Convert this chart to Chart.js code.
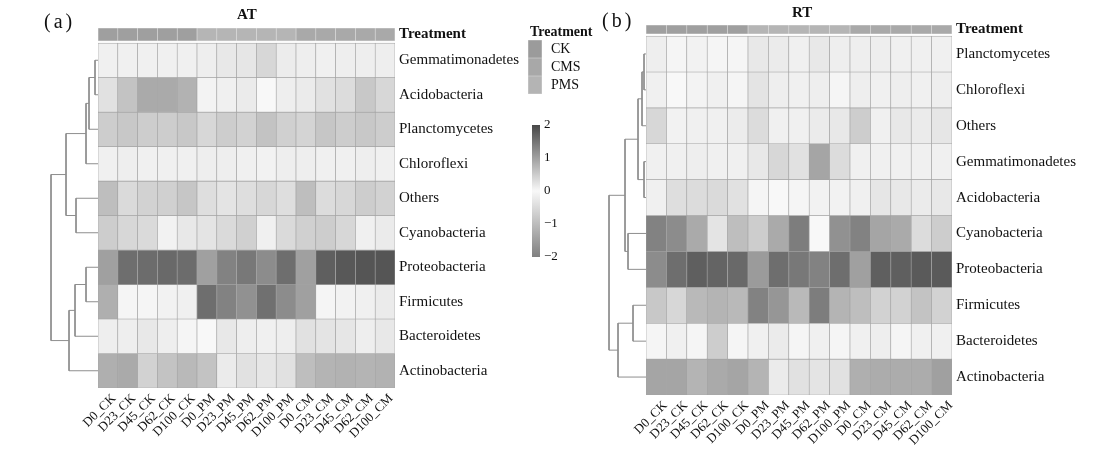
<!DOCTYPE html>
<html><head><meta charset="utf-8">
<script src="https://cdn.jsdelivr.net/npm/chart.js@4.4.1/dist/chart.umd.min.js"></script>
<style>
html,body{margin:0;padding:0;background:#fff;}
#wrap{position:relative;width:1098px;height:460px;overflow:hidden;font-family:'Liberation Serif',serif;color:#111;}
canvas{position:absolute;left:0;top:0;}
.t{position:absolute;white-space:nowrap;line-height:1;}
</style></head><body><div id="wrap">
<canvas id="hA" width="1098" height="460"></canvas>
<canvas id="dA" width="1098" height="460"></canvas>
<canvas id="hB" width="1098" height="460"></canvas>
<canvas id="dB" width="1098" height="460"></canvas>
<canvas id="legT" width="1098" height="460"></canvas>
<canvas id="legC" width="1098" height="460"></canvas>
<div class="t" style="left:44px;top:11px;font-size:20px;letter-spacing:3px">(a)</div>
<div class="t" style="left:237px;top:7px;font-size:15px;font-weight:bold">AT</div>
<div class="t" style="left:602px;top:10px;font-size:20px;letter-spacing:3px">(b)</div>
<div class="t" style="left:792px;top:5px;font-size:15px;font-weight:bold">RT</div>
<div class="t" style="left:530px;top:25px;font-size:14px;font-weight:bold">Treatment</div>
</div>
<script>
// ---------------- data ----------------
const columns = ['D0_CK','D23_CK','D45_CK','D62_CK','D100_CK','D0_PM','D23_PM','D45_PM','D62_PM','D100_PM','D0_CM','D23_CM','D45_CM','D62_CM','D100_CM'];
const treatmentOfColumn = ['CK','CK','CK','CK','CK','PMS','PMS','PMS','PMS','PMS','CMS','CMS','CMS','CMS','CMS'];
const treatmentLevels = ['CK','CMS','PMS'];
const colorTicks = [-2,-1,0,1,2];

const rowsAT = ['Gemmatimonadetes','Acidobacteria','Planctomycetes','Chloroflexi','Others','Cyanobacteria','Proteobacteria','Firmicutes','Bacteroidetes','Actinobacteria'];
const valuesAT = [
  [0.09,0.09,0.09,0.09,0.09,0.11,0.18,0.20,0.38,0.14,0.11,0.09,0.11,0.11,0.11],
  [0.26,0.60,0.89,0.89,0.80,0.06,0.09,0.15,0.00,0.11,0.15,0.26,0.32,0.55,0.38],
  [0.49,0.55,0.49,0.49,0.55,0.38,0.49,0.43,0.60,0.45,0.41,0.57,0.49,0.55,0.49],
  [0.09,0.11,0.09,0.09,0.09,0.11,0.11,0.09,0.07,0.11,0.11,0.09,0.09,0.11,0.09],
  [0.66,0.34,0.43,0.45,0.57,0.30,0.23,0.30,0.38,0.30,0.66,0.32,0.38,0.49,0.43],
  [0.49,0.38,0.34,0.07,0.18,0.23,0.34,0.45,0.09,0.34,0.45,0.49,0.38,0.09,0.15],
  [1.00,1.57,1.59,1.63,1.59,1.00,1.34,1.45,1.23,1.57,1.00,1.74,1.82,1.85,1.85],
  [0.83,0.03,0.03,0.07,0.09,1.57,1.34,1.17,1.55,1.23,1.00,0.03,0.07,0.09,0.15],
  [0.11,0.11,0.18,0.11,0.03,0.00,0.18,0.11,0.09,0.11,0.26,0.23,0.20,0.11,0.18],
  [0.83,0.89,0.43,0.60,0.72,0.60,0.15,0.26,0.20,0.26,0.66,0.77,0.80,0.77,0.80]
];
// dendrogram merges: [child A, child B, height]; children < 10 are rows, >= 10 are earlier merges
const mergesAT = [[0,1,3],[10,2,9],[11,3,12],[4,5,22],[12,13,32],[6,7,12],[15,8,23],[16,9,29],[14,17,47]];

const rowsRT = ['Planctomycetes','Chloroflexi','Others','Gemmatimonadetes','Acidobacteria','Cyanobacteria','Proteobacteria','Firmicutes','Bacteroidetes','Actinobacteria'];
const valuesRT = [
  [0.11,0.03,0.07,0.03,0.03,0.18,0.15,0.09,0.18,0.11,0.11,0.11,0.09,0.09,0.09],
  [0.09,0.00,0.06,0.09,0.03,0.23,0.11,0.09,0.11,0.03,0.11,0.09,0.11,0.09,0.11],
  [0.38,0.07,0.09,0.09,0.14,0.32,0.09,0.09,0.15,0.18,0.49,0.09,0.18,0.15,0.20],
  [0.09,0.09,0.11,0.09,0.09,0.18,0.38,0.26,0.94,0.32,0.09,0.09,0.09,0.09,0.09],
  [0.09,0.30,0.32,0.34,0.26,0.03,0.00,0.03,0.07,0.07,0.09,0.20,0.18,0.15,0.18],
  [1.34,1.23,0.89,0.23,0.66,0.49,0.89,1.40,0.00,1.17,1.34,0.94,0.89,0.32,0.49],
  [1.23,1.57,1.74,1.68,1.63,1.06,1.57,1.45,1.34,1.57,1.00,1.74,1.74,1.80,1.80],
  [0.55,0.38,0.72,0.77,0.72,1.34,1.11,0.72,1.40,0.77,0.66,0.43,0.43,0.60,0.43],
  [0.03,0.09,0.03,0.49,0.03,0.09,0.15,0.03,0.09,0.03,0.09,0.11,0.03,0.09,0.09],
  [0.94,0.94,0.77,0.89,0.94,0.77,0.15,0.26,0.23,0.26,0.83,0.86,0.86,0.86,1.00]
];
const mergesRT = [[0,1,2],[10,2,4],[3,4,2],[11,12,8],[5,6,18],[13,14,21],[7,8,13],[16,9,28],[15,17,37]];

// ---------------- styles ----------------
const FONT = 'Liberation Serif';
const W = 1098, H = 460;
const treatColors = {CK:'#9f9f9f', CMS:'#a9a9a9', PMS:'#b5b5b5'};
const legendColors = {CK:'#9b9b9b', CMS:'#a8a8a8', PMS:'#b4b4b4'};

function colorFor(v){
  const c = Math.max(-2, Math.min(2, v));
  const g = c >= 0 ? 248 - 88*c : 248 - 60*(-c);
  const q = Math.round(g);
  return `rgb(${q},${q},${q})`;
}

function heatmap(id, rows, values, area, treatSpan, xOffset){
  const nR = rows.length;
  const datasets = rows.map((r,i)=>({
    label:r,
    data: values[i].map(()=>[nR-1-i, nR-i]),
    backgroundColor: values[i].map(colorFor),
    borderColor:'#a3a3a3', borderWidth:0.65, borderSkipped:false,
    barPercentage:1, categoryPercentage:1, grouped:false
  }));
  datasets.push({
    label:'Treatment',
    data: columns.map(()=>treatSpan),
    backgroundColor: treatmentOfColumn.map(t=>treatColors[t]),
    borderColor:'rgba(0,0,0,0.07)', borderWidth:0.6, borderSkipped:false,
    barPercentage:1, categoryPercentage:1, grouped:false
  });
  const tickVals = rows.map((r,i)=>nR-0.5-i).concat([(treatSpan[0]+treatSpan[1])/2]);
  const tickLabels = rows.concat(['Treatment']);
  return new Chart(document.getElementById(id), {
    type:'bar',
    data:{labels: columns, datasets},
    options:{
      responsive:false, animation:false, events:[],
      layout:{padding:{left:area.left, top:area.top, right:W-area.right-170, bottom:H-area.bottom-64}},
      plugins:{legend:{display:false}, tooltip:{enabled:false}, title:{display:false}},
      scales:{
        x:{type:'category', offset:true, grid:{display:false, drawTicks:false}, border:{display:false},
           ticks:{minRotation:45, maxRotation:45, autoSkip:false, padding:3, labelOffset:xOffset, color:'#111', font:{family:FONT, size:13}},
           afterFit(s){ s.height = 64; }},
        y:{type:'linear', position:'right', min:0, max:treatSpan[1],
           grid:{display:false, drawTicks:false}, border:{display:false},
           afterBuildTicks(s){ s.ticks = tickVals.map(v=>({value:v})); },
           ticks:{autoSkip:false, padding:4, color:'#111',
             callback:(v,i)=>tickLabels[i],
             font:(c)=>({family:FONT, size:15, weight: c.index===nR ? 'bold' : 'normal'})},
           afterFit(s){ s.width = 170; }}
      }
    }
  });
}

function dendroPoints(merges, nLeaves){
  const pos=[], hgt=[], pts=[];
  for(let i=0;i<nLeaves;i++){ pos[i]=nLeaves-0.5-i; hgt[i]=0; }
  merges.forEach(([a,b,h],k)=>{
    const id=nLeaves+k;
    pos[id]=(pos[a]+pos[b])/2; hgt[id]=h;
    pts.push({x:hgt[a],y:pos[a]},{x:h,y:pos[a]},{x:h,y:pos[b]},{x:hgt[b],y:pos[b]},{x:null,y:null});
  });
  return {pts, maxH: hgt[hgt.length-1]};
}

function dendro(id, merges, nLeaves, area){
  const d = dendroPoints(merges, nLeaves);
  return new Chart(document.getElementById(id), {
    type:'scatter',
    data:{datasets:[{data:d.pts, showLine:true, borderColor:'#8e8e8e', borderWidth:1, pointRadius:0, spanGaps:false, tension:0, clip:false}]},
    options:{
      responsive:false, animation:false, events:[],
      layout:{padding:{left:area.left, top:area.top, right:W-area.right, bottom:H-area.bottom}},
      plugins:{legend:{display:false}, tooltip:{enabled:false}},
      scales:{
        x:{type:'linear', display:false, reverse:true, min:0, max:d.maxH},
        y:{type:'linear', display:false, min:0, max:nLeaves}
      }
    }
  });
}

heatmap('hA', rowsAT, valuesAT, {left:98, right:395, top:28, bottom:388}, [10.06, 10.44], 6);
dendro('dA', mergesAT, rowsAT.length, {left:51, right:98, top:43, bottom:388});
heatmap('hB', rowsRT, valuesRT, {left:646, right:952, top:25, bottom:395}, [10.06, 10.31], 9);
dendro('dB', mergesRT, rowsRT.length, {left:609, right:646, top:36, bottom:395});

// Treatment legend
new Chart(document.getElementById('legT'), {
  type:'bar',
  data:{labels:[''], datasets: treatmentLevels.map((t,i)=>({
    label:t, data:[[treatmentLevels.length-1-i, treatmentLevels.length-i]],
    backgroundColor:legendColors[t], borderColor:'rgba(0,0,0,0.12)', borderWidth:0.6, borderSkipped:false,
    barPercentage:1, categoryPercentage:1, grouped:false}))},
  options:{
    responsive:false, animation:false, events:[],
    layout:{padding:{left:528, top:40, right:W-542-60, bottom:H-94}},
    plugins:{legend:{display:false}, tooltip:{enabled:false}},
    scales:{
      x:{display:false},
      y:{type:'linear', position:'right', min:0, max:treatmentLevels.length,
         grid:{display:false, drawTicks:false}, border:{display:false},
         afterBuildTicks(s){ s.ticks = treatmentLevels.map((t,i)=>({value:treatmentLevels.length-0.5-i})); },
         ticks:{autoSkip:false, padding:9, color:'#111', callback:(v,i)=>treatmentLevels[i], font:{family:FONT, size:14}},
         afterFit(s){ s.width = 60; }}
    }
  }
});

// Colour key
new Chart(document.getElementById('legC'), {
  type:'bar',
  data:{labels:[''], datasets:[{
    data:[[colorTicks[0], colorTicks[colorTicks.length-1]]],
    backgroundColor:(c)=>{
      const a = c.chart.chartArea; if(!a) return '#ccc';
      const g = c.chart.ctx.createLinearGradient(0, a.bottom, 0, a.top);
      for(let v=-2; v<=2.0001; v+=0.25) g.addColorStop((v+2)/4, colorFor(v));
      return g;
    },
    borderWidth:0, barPercentage:1, categoryPercentage:1}]},
  options:{
    responsive:false, animation:false, events:[],
    layout:{padding:{left:532, top:125, right:W-540-40, bottom:H-257}},
    plugins:{legend:{display:false}, tooltip:{enabled:false}},
    scales:{
      x:{display:false},
      y:{type:'linear', position:'right', min:-2, max:2,
         grid:{display:false, drawTicks:false}, border:{display:false},
         afterBuildTicks(s){ s.ticks = colorTicks.map(v=>({value:v})); },
         ticks:{autoSkip:false, padding:4, color:'#111', callback:(v)=>String(v).replace('-','\u2212'), font:{family:FONT, size:13}},
         afterFit(s){ s.width = 40; }}
    }
  }
});
</script>
</body></html>
